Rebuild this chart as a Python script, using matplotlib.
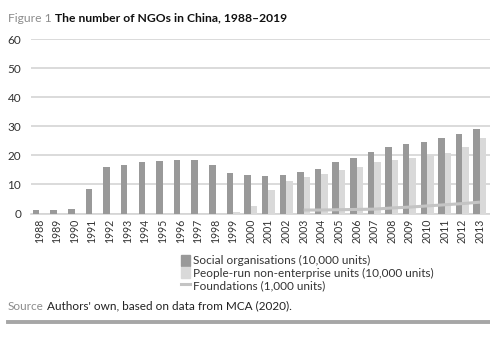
import matplotlib
matplotlib.use("Agg")
import matplotlib.pyplot as plt
from matplotlib.patches import Patch
from matplotlib.lines import Line2D
import numpy as np

plt.rcParams['font.family'] = ['Lato', 'DejaVu Sans']

years = [str(y) for y in range(1988, 2014)]
social = [1.1, 1.1, 1.4, 8.5, 15.9, 16.8, 17.7, 18.1, 18.5, 18.5, 16.8, 13.8,
          13.4, 13.0, 13.4, 14.4, 15.4, 17.7, 19.2, 21.2, 23.0, 23.9, 24.5,
          25.8, 27.3, 28.9]
people_run = [0, 0, 0, 0, 0, 0, 0, 0, 0, 0, 0, 0.6,
              2.7, 8.2, 11.1, 12.7, 13.7, 14.9, 16.1, 17.7, 18.5, 19.2, 20.1,
              20.8, 22.7, 25.8]
found_years = [str(y) for y in range(2003, 2014)]
foundations = [1.2, 1.2, 1.3, 1.4, 1.5, 1.9, 2.2, 2.6, 3.0, 3.4, 3.9]
yticks = [0, 10, 20, 30, 40, 50, 60]

DARK = '#999999'
LIGHT = '#d9d9d9'
LINE = '#c4c4c4'
GRID = '#d4d4d4'
TXT = '#333333'

fig = plt.figure(figsize=(4.9, 3.39), dpi=100)
ax = fig.add_axes([31/490, 1 - 213.5/339, (490-31)/490, (213.5-39)/339])

x = np.arange(len(years))
w = 0.37
ax.bar(x - w/2, social, width=w, color=DARK, zorder=3)
ax.bar(x + w/2, people_run, width=w, color=LIGHT, zorder=3)
fx = [years.index(y) for y in found_years]
ax.plot(fx, foundations, color=LINE, lw=2.2, zorder=4, solid_capstyle='butt')

ax.set_xlim(-0.47, 25.57)
ax.set_ylim(0, 60)
ax.set_yticks(yticks)
ax.set_yticklabels([str(v) for v in yticks], fontsize=8.5, color=TXT)
ax.set_xticks(x)
ax.set_xticklabels(years, rotation=90, fontsize=7.6, color=TXT)
ax.tick_params(axis='both', length=0, pad=4)
ax.tick_params(axis='y', pad=7)
ax.yaxis.grid(True, color=GRID, lw=1.2, zorder=0)
ax.set_axisbelow(True)
for s in ['top', 'right', 'left']:
    ax.spines[s].set_visible(False)
ax.spines['bottom'].set_color(GRID)
ax.spines['bottom'].set_linewidth(1.2)

handles = [Patch(color=DARK), Patch(color=LIGHT), Line2D([0], [0], color=LINE, lw=2.2)]
labels = ['Social organisations (10,000 units)',
          'People-run non-enterprise units (10,000 units)',
          'Foundations (1,000 units)']
fig.legend(handles, labels, loc='upper left', bbox_to_anchor=(181/490, 1 - 255/339),
           frameon=False, fontsize=8.5, handlelength=0.75, handleheight=1.0,
           handletextpad=0.25, labelspacing=0.08, borderpad=0, borderaxespad=0,
           labelcolor=TXT)

renderer = fig.canvas.get_renderer()

def pair(y, first, second, fs, c1, c2, w2):
    t1 = fig.text(8/490, 1 - y/339, first, fontsize=fs, color=c1, va='center', ha='left')
    bb = t1.get_window_extent(renderer)
    fig.text(bb.x1/490 + 3/490, 1 - y/339, second, fontsize=fs, color=c2,
             va='center', ha='left', fontweight=w2)

pair(18, 'Figure 1', 'The number of NGOs in China, 1988\u20132019', 8.7, '#8c8c8c', '#111111', 'bold')
pair(306, 'Source', "Authors' own, based on data from MCA (2020).", 8.5, '#8c8c8c', '#222222', 'normal')
fig.add_artist(Line2D([8/490, 1.0], [1 - 322/339, 1 - 322/339], color='#a6a6a6', lw=2.8,
                      transform=fig.transFigure))

fig.savefig('out.png', dpi=100)
